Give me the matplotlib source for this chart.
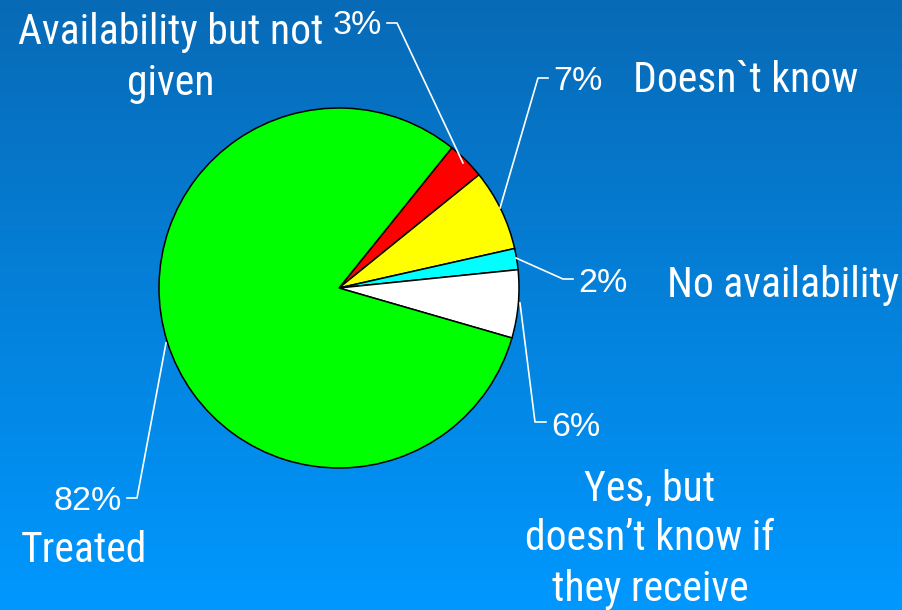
import numpy as np
import matplotlib
matplotlib.use("Agg")
import matplotlib.pyplot as plt
from matplotlib import font_manager

# ---- data ----
categories = ["Availability but not\ngiven", "Doesn`t know", "No availability",
              "Yes, but\ndoesn\u2019t know if\nthey receive", "Treated"]
values = [3.4, 7.3, 1.9, 6.1, 81.3]          # slice sizes
pct_labels = ["3%", "7%", "2%", "6%", "82%"]  # labels as printed
colors = ["#FF0000", "#FFFF00", "#00FFFF", "#FFFFFF", "#00FF00"]

# ---- fonts ----
avail = {f.name for f in font_manager.fontManager.ttflist}
narrow = [f for f in ["Liberation Sans Narrow", "Arial Narrow", "Roboto Condensed",
                      "Open Sans Condensed", "DejaVu Sans Condensed"] if f in avail]
if narrow:
    cat_fam = [narrow[0], "DejaVu Sans"]
    fs_cat = 30
else:
    cat_fam = ["Liberation Sans", "DejaVu Sans"]
    fs_cat = 27
pct_fam = ["Liberation Sans", "DejaVu Sans"]
plt.rcParams["font.family"] = pct_fam

W, H = 903, 610
fig = plt.figure(figsize=(W / 100, H / 100), dpi=100)

# background gradient
bg = fig.add_axes([0, 0, 1, 1])
top = np.array([0x08, 0x6A, 0xB6]) / 255
bot = np.array([0x00, 0x98, 0xFF]) / 255
t = np.linspace(0, 1, 256)[:, None]
grad = top[None, :] * (1 - t) + bot[None, :] * t
bg.imshow(grad[:, None, :], aspect="auto", extent=[0, 1, 0, 1])
bg.set_axis_off()

# main axes in pixel coordinates (y down)
ax = fig.add_axes([0, 0, 1, 1])
ax.patch.set_alpha(0)

cx, cy, r = 339, 288, 180
# y axis is inverted below, so data angles are mirrored: start at -51.2 going CCW in data
wedges, _ = ax.pie(values, colors=colors, startangle=-51.2, counterclock=True,
                   center=(cx, cy), radius=r,
                   wedgeprops=dict(edgecolor="black", linewidth=1.1),
                   frame=False)
ax.set_xlim(0, W)
ax.set_ylim(H, 0)
ax.set_aspect("auto")
ax.set_axis_off()

lc = dict(color="white", lw=1.2)
fs_pct = 24.5

# leader lines + percent labels
ax.plot([463, 397, 387], [163, 23, 23], **lc)
ax.text(382, 26, pct_labels[0], color="white", fontsize=fs_pct, ha="right", va="center")

ax.plot([500, 538, 548], [208, 78, 78], **lc)
ax.text(553, 82, pct_labels[1], color="white", fontsize=fs_pct, ha="left", va="center")

ax.plot([516, 563, 573], [258, 279, 279], **lc)
ax.text(578, 284, pct_labels[2], color="white", fontsize=fs_pct, ha="left", va="center")

ax.plot([520, 535, 546], [303, 422, 422], **lc)
ax.text(551, 427, pct_labels[3], color="white", fontsize=fs_pct, ha="left", va="center")

ax.plot([166, 137, 127], [343, 498, 498], **lc)
ax.text(122, 501, pct_labels[4], color="white", fontsize=fs_pct, ha="right", va="center")

# category labels
ck = dict(color="white", fontsize=fs_cat, family=cat_fam)
ax.text(171, 58, categories[0], ha="center", va="center", linespacing=1.3, **ck)
ax.text(633, 80, categories[1], ha="left", va="center", **ck)
ax.text(667, 286, categories[2], ha="left", va="center", **ck)
ax.text(650, 539, categories[3], ha="center", va="center", linespacing=1.3, **ck)
ax.text(84, 550, categories[4], ha="center", va="center", **ck)

fig.savefig("out.png", dpi=100)
